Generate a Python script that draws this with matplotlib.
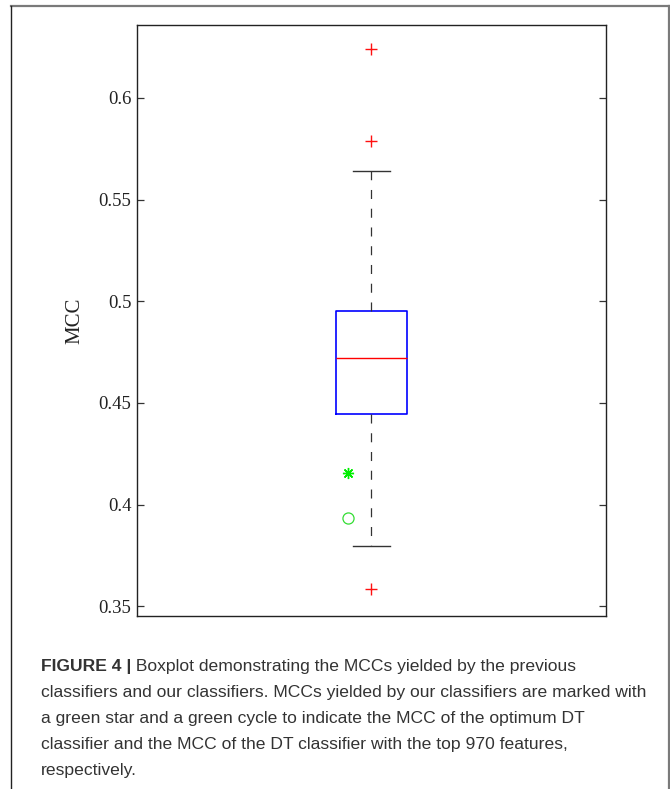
import matplotlib
matplotlib.use("Agg")
import matplotlib.pyplot as plt
from matplotlib.lines import Line2D

# ---- data ----
q1 = 0.4445
median = 0.472
q3 = 0.4952
whisker_low = 0.3795
whisker_high = 0.564
outliers = [0.624, 0.5788, 0.3584]
optimum_dt_mcc = 0.4155      # green star
top970_dt_mcc = 0.3933       # green circle
y_ticks = [0.35, 0.4, 0.45, 0.5, 0.55, 0.6]
y_tick_labels = ["0.35", "0.4", "0.45", "0.5", "0.55", "0.6"]

caption_bold = "FIGURE 4 |"
caption_lines = [
    " Boxplot demonstrating the MCCs yielded by the previous",
    "classifiers and our classifiers. MCCs yielded by our classifiers are marked with",
    "a green star and a green cycle to indicate the MCC of the optimum DT",
    "classifier and the MCC of the DT classifier with the top 970 features,",
    "respectively.",
]

plt.rcParams['lines.scale_dashes'] = False

W, H = 670, 789
fig = plt.figure(figsize=(W / 100, H / 100), dpi=100)

ax = fig.add_axes([137 / W, (H - 616) / H, 469 / W, 591 / H])

stats = [dict(med=median, q1=q1, q3=q3, whislo=whisker_low, whishi=whisker_high,
              fliers=outliers)]
ax.bxp(stats, positions=[1], widths=0.15, capwidths=0.077,
       boxprops=dict(color='#0000ff', linewidth=1.2),
       medianprops=dict(color='#ff0000', linewidth=1.0),
       whiskerprops=dict(color='#333333', linewidth=0.9, linestyle=(0, (6.5, 7))),
       capprops=dict(color='#333333', linewidth=1.0),
       flierprops=dict(marker='+', markeredgecolor='#ff1010', markersize=8,
                       markeredgewidth=1.0, linestyle='none'))

ax.plot([0.95], [optimum_dt_mcc], linestyle='none', marker=(8, 2, 0),
        markersize=8, markeredgecolor='#00ee00', markeredgewidth=1.0)
ax.plot([0.95], [top970_dt_mcc], linestyle='none', marker='o',
        markersize=8, markerfacecolor='none', markeredgecolor='#33dd33',
        markeredgewidth=0.9)

ax.set_xlim(0.5, 1.5)
ax.set_ylim(0.3452, 0.6359)
ax.set_xticks([])
ax.set_yticks(y_ticks)
ax.set_yticklabels(y_tick_labels, fontfamily='Liberation Serif', fontsize=13.5,
                   color='#222222')
ax.tick_params(axis='y', direction='in', length=5, width=0.9, left=True,
               right=True, color='#333333', pad=4)
for s in ax.spines.values():
    s.set_linewidth(1.0)
    s.set_color('#222222')
ax.set_ylabel("MCC", fontfamily='Liberation Serif', fontsize=15,
              color='#222222', labelpad=10)

# outer frame (top, left, right)
frame_col = '#7a7a7a'
fig.add_artist(Line2D([11 / W, 669 / W], [1 - 6 / H, 1 - 6 / H],
                      transform=fig.transFigure, color=frame_col, linewidth=1.6))
fig.add_artist(Line2D([11 / W, 11 / W], [0, 1 - 6 / H],
                      transform=fig.transFigure, color='#222222', linewidth=1.0))
fig.add_artist(Line2D([669 / W, 669 / W], [0, 1 - 6 / H],
                      transform=fig.transFigure, color=frame_col, linewidth=1.6))

# caption
cap_font = dict(fontfamily='Liberation Sans', fontsize=12.6, color='#333333')
x0 = 41 / W
line_y = [666, 692, 718, 745, 771]
t = fig.text(x0, 1 - line_y[0] / H, caption_bold, fontweight='bold',
             va='center', ha='left', **cap_font)
fig.canvas.draw()
bb = t.get_window_extent()
x1 = bb.x1 / W
fig.text(x1, 1 - line_y[0] / H, caption_lines[0], va='center', ha='left', **cap_font)
for yy, line in zip(line_y[1:], caption_lines[1:]):
    fig.text(x0, 1 - yy / H, line, va='center', ha='left', **cap_font)

fig.savefig("out.png", dpi=100)
